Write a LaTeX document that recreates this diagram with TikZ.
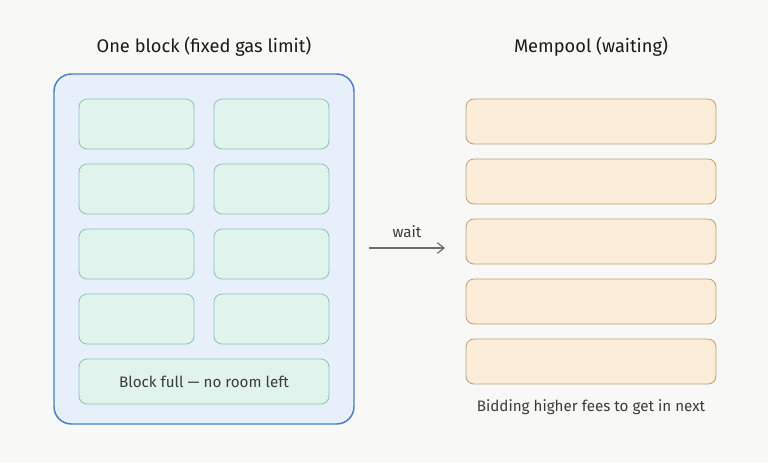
\documentclass[tikz,border=0pt]{standalone}
\usepackage{fontspec}
\setmainfont{Fira Sans}
\usepackage{xcolor}
\definecolor{bgPaper}{HTML}{F8F8F6}
\definecolor{blockBlue}{HTML}{4A7FC0}
\definecolor{blockFill}{HTML}{E7F0FA}
\definecolor{txGreen}{HTML}{8CC2B4}
\definecolor{txFill}{HTML}{E0F3EC}
\definecolor{poolGold}{HTML}{C49E70}
\definecolor{poolFill}{HTML}{FBEDDA}
\definecolor{inkDark}{HTML}{1A1A1A}
\definecolor{inkGray}{HTML}{3C3C3C}
\definecolor{arrowGray}{HTML}{6E6E6E}
\usepackage{tikz}
\usetikzlibrary{arrows.meta}

\begin{document}
\begin{tikzpicture}[x=0.75pt, y=-0.75pt,
  title/.style={font=\fontsize{13.7}{16}\selectfont, text=inkDark},
  label/.style={font=\fontsize{11.4}{14}\selectfont, text=inkGray},
  blockbox/.style={draw=blockBlue, line width=1.1pt, fill=blockFill, rounded corners=13pt,
    minimum width=225pt, minimum height=262.5pt, inner sep=0pt, outer sep=0pt},
  txbox/.style={draw=txGreen, line width=0.6pt, fill=txFill, rounded corners=6pt,
    minimum width=86.25pt, minimum height=37.5pt, inner sep=0pt, outer sep=0pt},
  fullbox/.style={txbox, minimum width=187.5pt, minimum height=33.75pt},
  poolbox/.style={draw=poolGold, line width=0.6pt, fill=poolFill, rounded corners=6pt,
    minimum width=187.5pt, minimum height=33.75pt, inner sep=0pt, outer sep=0pt}]
  % ---- paper ----
  \fill[bgPaper] (0,0) rectangle (768,462);
  \useasboundingbox (0,0) rectangle (768,462);
  % ---- one block ----
  \node[title] (blockTitle) at (204,47) {One block (fixed gas limit)};
  \node[blockbox] (block) at (204,249) {};
  \foreach \r/\y in {1/124,2/189,3/254,4/319} {
    \node[txbox] (tx\r a) at (136.5,\y) {};
    \node[txbox] (tx\r b) at (271.5,\y) {};
  }
  \node[fullbox, label] (full) at (204,381.5) {Block full --- no room left};
  % ---- wait arrow ----
  \coordinate (waitStart) at (369,248);
  \coordinate (waitEnd) at (445,248);
  \draw[arrowGray, line width=0.9pt, -{Straight Barb[length=5pt,width=8pt]}]
    (waitStart) -- node[label, above=4pt] (waitLabel) {wait} (waitEnd);
  % ---- mempool ----
  \node[title] (poolTitle) at (591,47) {Mempool (waiting)};
  \foreach \i/\y in {1/121.5,2/181.5,3/241.5,4/301.5,5/361.5}
    \node[poolbox] (pool\i) at (591,\y) {};
  \node[label] (poolNote) at (591,407) {Bidding higher fees to get in next};
\end{tikzpicture}
\end{document}
